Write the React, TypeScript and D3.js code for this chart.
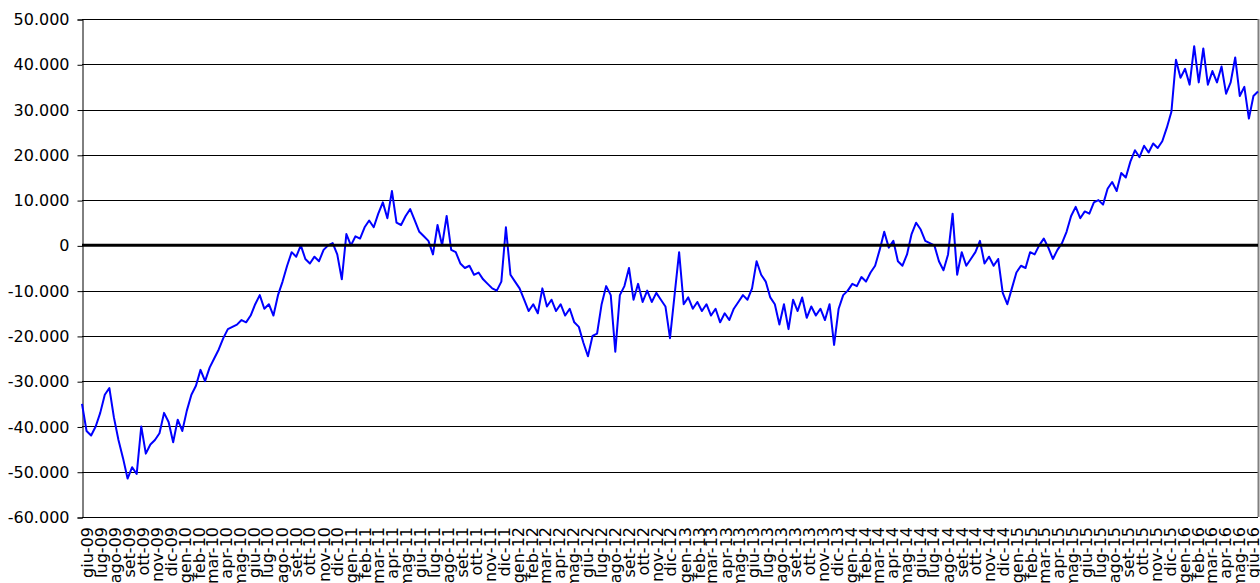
import React, { useEffect, useRef } from "react";
import * as d3 from "d3";

const width = 1260;
const height = 583;

// serie campionata ogni 10 giorni a partire dal 19 maggio 2009
const startDate = new Date(2009, 4, 19);
const stepDays = 10;
const values = [
  -35000, -41000, -42000, -40000, -37000, -33000, -31500, -38000, -43000, -47000,
  -51500, -49000, -50500, -40000, -46000, -44000, -43000, -41500, -37000, -39000,
  -43500, -38500, -41000, -36500, -33000, -31000, -27500, -30000, -27000, -25000,
  -23000, -20500, -18500, -18000, -17500, -16500, -17000, -15500, -13000, -11000,
  -14000, -13000, -15500, -11000, -8000, -4500, -1500, -2500, 0, -3000,
  -4000, -2500, -3500, -1000, 0, 500, -2000, -7500, 2500, 0,
  2000, 1500, 4000, 5500, 4000, 7000, 9500, 6000, 12000, 5000,
  4500, 6500, 8000, 5500, 3000, 2000, 1000, -2000, 4500, 0,
  6500, -1000, -1500, -4000, -5000, -4500, -6500, -6000, -7500, -8500,
  -9500, -10000, -8000, 4000, -6500, -8000, -9500, -12000, -14500, -13000,
  -15000, -9500, -13500, -12000, -14500, -13000, -15500, -14000, -17000, -18000,
  -21500, -24500, -20000, -19500, -13000, -9000, -11000, -23500, -11000, -9000,
  -5000, -12000, -8500, -12500, -10000, -12500, -10500, -12000, -13500, -20500,
  -11000, -1500, -13000, -11500, -14000, -12500, -14500, -13000, -15500, -14000,
  -17000, -15000, -16500, -14000, -12500, -11000, -12000, -9500, -3500, -6500,
  -8000, -11500, -13000, -17500, -13000, -18500, -12000, -14500, -11500, -16000,
  -13500, -15500, -14000, -16500, -13000, -22000, -14000, -11000, -10000, -8500,
  -9000, -7000, -8000, -6000, -4500, -1000, 3000, -500, 1000, -3500,
  -4500, -2000, 2500, 5000, 3500, 1000, 500, 0, -3500, -5500,
  -2000, 7000, -6500, -1500, -4500, -3000, -1500, 1000, -4000, -2500,
  -4500, -3000, -10500, -13000, -9500, -6000, -4500, -5000, -1500, -2000,
  0, 1500, -500, -3000, -1000, 500, 3000, 6500, 8500, 6000,
  7500, 7000, 9500, 10000, 9000, 12500, 14000, 12000, 16000, 15000,
  18500, 21000, 19500, 22000, 20500, 22500, 21500, 23000, 26000, 29500,
  41000, 37000, 39000, 35500, 44000, 36000, 43500, 35500, 38500, 36000,
  39500, 33500, 36000, 41500, 33000, 35000, 28000, 33000, 34000,
];

const monthNames = ["gen", "feb", "mar", "apr", "mag", "giu", "lug", "ago", "set", "ott", "nov", "dic"];
const firstLabel = new Date(2009, 5, 1);
const lastLabel = new Date(2016, 5, 1);
const yTicks = [-60000, -50000, -40000, -30000, -20000, -10000, 0, 10000, 20000, 30000, 40000, 50000];

const margin = { top: 19, right: 2, bottom: 66, left: 82 };

export default function App() {
  const ref = useRef<SVGSVGElement>(null);

  useEffect(() => {
    const svg = d3.select(ref.current);
    svg.selectAll("*").remove();

    const dates = values.map((_, i) => d3.timeDay.offset(startDate, i * stepDays));

    const x = d3
      .scaleTime()
      .domain([dates[0], dates[dates.length - 1]])
      .range([margin.left, width - margin.right]);

    const y = d3
      .scaleLinear()
      .domain([-60000, 50000])
      .range([height - margin.bottom, margin.top]);

    const it = d3.formatLocale({
      decimal: ",",
      thousands: ".",
      grouping: [3],
      currency: ["€", ""],
      minus: "-",
    });
    const fmt = it.format(",d");

    svg.attr("font-family", "'DejaVu Sans', Verdana, sans-serif").attr("font-size", 16);

    // griglia orizzontale
    svg
      .append("g")
      .selectAll("line")
      .data(yTicks.filter((d) => d !== 0))
      .join("line")
      .attr("x1", margin.left)
      .attr("x2", width - margin.right)
      .attr("y1", (d) => Math.round(y(d)) + 0.5)
      .attr("y2", (d) => Math.round(y(d)) + 0.5)
      .attr("stroke", "#000")
      .attr("stroke-width", 1);

    // bordo destro
    svg
      .append("line")
      .attr("x1", width - margin.right + 0.5)
      .attr("x2", width - margin.right + 0.5)
      .attr("y1", margin.top)
      .attr("y2", height - margin.bottom)
      .attr("stroke", "#808080")
      .attr("stroke-width", 2);

    // asse y
    const yAxis = d3
      .axisLeft(y)
      .tickValues(yTicks)
      .tickFormat((d) => fmt(d as number))
      .tickSize(5)
      .tickPadding(8);

    const gy = svg
      .append("g")
      .attr("transform", `translate(${margin.left + 0.5},0.5)`)
      .call(yAxis);
    gy.select(".domain").attr("stroke", "#000");
    gy.selectAll(".tick line").attr("stroke", "#000");
    gy.selectAll(".tick text")
      .attr("fill", "#000")
      .attr("font-size", 16)
      .attr("font-family", "'DejaVu Sans', Verdana, sans-serif");

    // etichette mesi
    const months = d3.timeMonth.range(firstLabel, d3.timeMonth.offset(lastLabel, 1));
    svg
      .append("g")
      .selectAll("text")
      .data(months)
      .join("text")
      .attr("transform", (d) => `translate(${x(d)},${height - margin.bottom + 10}) rotate(-90)`)
      .attr("text-anchor", "end")
      .attr("dominant-baseline", "central")
      .attr("fill", "#000")
      .text((d) => `${monthNames[d.getMonth()]}-${String(d.getFullYear() % 100).padStart(2, "0")}`);

    // serie
    const line = d3
      .line<number>()
      .x((_, i) => x(dates[i]))
      .y((d) => y(d));

    svg
      .append("path")
      .datum(values)
      .attr("fill", "none")
      .attr("stroke", "#0000ff")
      .attr("stroke-width", 2)
      .attr("stroke-linejoin", "round")
      .attr("d", line);

    // linea dello zero
    svg
      .append("line")
      .attr("x1", margin.left)
      .attr("x2", width - margin.right)
      .attr("y1", y(0))
      .attr("y2", y(0))
      .attr("stroke", "#000")
      .attr("stroke-width", 3);
  }, []);

  return (
    <div style={{ position: "absolute", left: 0, top: 0, width, height, overflow: "hidden", background: "#fff" }}>
      <svg ref={ref} width={width} height={height} style={{ display: "block" }}></svg>
    </div>
  );
}
